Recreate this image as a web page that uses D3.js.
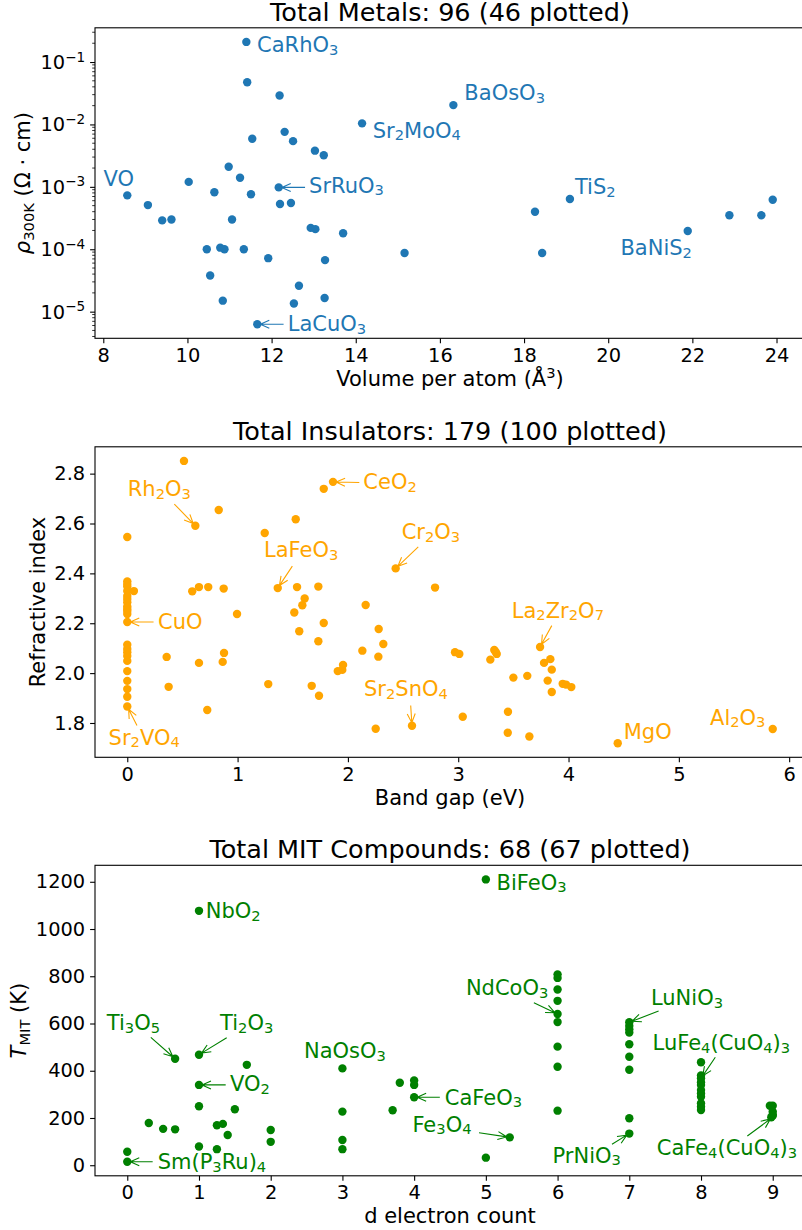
<!DOCTYPE html>
<html>
<head>
<meta charset="utf-8">
<script src="https://cdn.jsdelivr.net/npm/d3@7"></script>
<style>
body { margin: 0; background: #fff; }
svg { display: block; font-family: "DejaVu Sans", sans-serif; }
</style>
</head>
<body>
<svg></svg>
<script>

// DATA

// metals: volume per atom (A^3) vs resistivity at 300K (ohm cm)
var metal_volume = [11.40, 11.42, 12.19, 14.15, 12.31, 11.54, 12.51, 13.03, 13.24, 10.98,
	11.25, 10.03, 12.17, 10.64, 11.51, 8.57, 9.06, 12.20, 12.46, 9.40,
	9.62, 11.06, 12.93, 13.04, 13.70, 10.46, 10.78, 10.88, 11.34, 11.92,
	13.27, 15.16, 10.54, 12.65, 10.84, 12.53, 13.26, 11.66, 16.32, 19.09,
	18.26, 18.43, 21.89, 22.88, 23.64, 23.91]
var metal_rho = [0.21, 0.0475, 0.0291, 0.0104, 0.0076, 0.0059, 0.0054, 0.0038, 0.0032, 0.0021,
	0.0014, 0.0012, 0.00098, 0.00082, 0.00076, 0.00073, 0.00051, 0.00053, 0.00055, 0.00029,
	0.00030, 0.00030, 0.00022, 0.00021, 0.00018, 0.0001, 0.000106, 0.0001, 0.0001, 0.000072,
	0.000067, 0.000087, 0.000038, 0.000026, 0.000015, 0.0000135, 0.0000166, 0.0000063, 0.0204, 0.00064,
	0.00040, 0.000087, 0.000196, 0.00035, 0.00035, 0.00062]
var metal_labels = [
	["CaRhO3", 11.40, 0.21],
	["Sr2MoO4", 14.15, 0.0104],
	["SrRuO3", 12.17, 0.00098],
	["VO", 8.57, 0.00073],
	["BaOsO3", 16.32, 0.0204],
	["TiS2", 19.09, 0.00064],
	["BaNiS2", 21.89, 0.000196],
	["LaCuO3", 11.66, 0.0000063]
]

// insulators: band gap (eV) vs refractive index
var ins_gap = [0, 0, 0, 0, 0, 0, 0, 0, 0, 0, 0, 0,
	0, 0, 0, 0, 0, 0, 0, 0, 0, 0, 0, 0.06,
	0.514, 1.781, 1.865, 0.829, 0.617, 1.527, 1.246, 2.433, 2.790, 1.364,
	1.539, 1.732, 0.734, 0.650, 0.589, 0.874, 1.608, 1.587, 1.514, 0.995,
	2.161, 1.781, 1.559, 2.279, 1.732, 2.321, 2.131, 2.276, 0.357, 0.877,
	0.865, 0.650, 1.956, 1.949, 1.908, 0.375, 1.278, 1.672, 1.738, 0.725,
	2.252, 2.581,
	2.971, 3.010, 3.327, 3.349, 3.340, 3.291, 3.742, 3.778, 3.835, 3.848,
	3.500, 3.626, 3.811, 3.947, 3.977, 4.025, 3.848, 3.041, 3.451, 3.449,
	3.645, 4.446, 5.851]
var ins_n = [2.546, 2.368, 2.357, 2.347, 2.329, 2.309, 2.297, 2.284, 2.267, 2.257, 2.249, 2.237,
	2.205, 2.114, 2.097, 2.084, 2.069, 2.049, 2.008, 1.969, 1.936, 1.905, 1.866, 2.329,
	2.851, 2.739, 2.767, 2.654, 2.591, 2.617, 2.562, 2.420, 2.343, 2.341,
	2.345, 2.347, 2.345, 2.345, 2.328, 2.339, 2.299, 2.272, 2.243, 2.237,
	2.273, 2.201, 2.168, 2.177, 2.128, 2.117, 2.090, 2.066, 2.065, 2.081,
	2.045, 2.041, 2.033, 2.013, 2.008, 1.945, 1.956, 1.949, 1.909, 1.852,
	1.777, 1.789,
	2.084, 2.077, 2.093, 2.077, 2.085, 2.054, 2.105, 2.041, 2.056, 2.014,
	1.982, 1.989, 1.970, 1.957, 1.954, 1.944, 1.924, 1.825, 1.845, 1.761,
	1.746, 1.719, 1.776]
var ins_labels = [
	["Rh2O3", 0.617, 2.591],
	["CeO2", 1.865, 2.767],
	["Cr2O3", 2.433, 2.420],
	["LaFeO3", 1.364, 2.341],
	["CuO", 0, 2.205],
	["Sr2VO4", 0, 1.866],
	["Sr2SnO4", 2.581, 1.789],
	["La2Zr2O7", 3.742, 2.105],
	["MgO", 4.446, 1.719],
	["Al2O3", 5.851, 1.776]
]

// MIT compounds: d electron count vs transition temperature (K)
var mit_d = [0, 0, 0.3, 0.5, 0.667, 0.667, 1, 1, 1, 1, 1, 1.25, 1.25, 1.333, 1.4, 1.5, 1.667, 2, 2,
	3, 3, 3, 3, 3.7, 3.8, 4, 4, 4, 5, 5, 5.333,
	6, 6, 6, 6, 6, 6, 6, 6, 6,
	7, 7, 7, 7, 7, 7, 7, 7, 7,
	8, 8, 8, 8, 8, 8, 8, 8, 8, 8, 8,
	8.96, 9, 9, 9, 8.98, 9]
var mit_t = [57, 15, 179, 154, 152, 451, 1077, 468, 340, 250, 79, 169, 68, 175, 128, 237, 425, 149, 99,
	410, 227, 107, 68, 233, 349, 359, 340, 288, 1210, 32, 118,
	808, 793, 744, 696, 640, 606, 502, 417, 231,
	605, 590, 576, 562, 512, 459, 404, 199, 134,
	436, 380, 368, 351, 340, 318, 304, 290, 262, 248, 234,
	252, 252, 227, 209, 203, 215]
var mit_labels = [
	["NbO2", 1, 1077],
	["BiFeO3", 5, 1210],
	["Ti3O5", 0.667, 451],
	["Ti2O3", 1, 468],
	["VO2", 1, 340],
	["Sm(P3Ru)4", 0, 15],
	["NaOsO3", 3, 410],
	["CaFeO3", 4, 288],
	["Fe3O4", 5.333, 118],
	["NdCoO3", 6, 640],
	["LuNiO3", 7, 605],
	["LuFe4(CuO4)3", 8, 368],
	["PrNiO3", 7, 134],
	["CaFe4(CuO4)3", 9, 203]
]

// LAYOUT

// text offset from the point (left, baseline) and arrow start, in pixels
var note_pos = {
	CaRhO3: [10.7, 10], Sr2MoO4: [10.7, 14.3], SrRuO3: [30.3, 5.3], VO: [-23.7, -9.3],
	BaOsO3: [11, -4.7], TiS2: [5, -4.7], BaNiS2: [-67.3, 24.3], LaCuO3: [30.5, 7],
	Rh2O3: [-67.6, -29.7], CeO2: [30.3, 7.6], Cr2O3: [6, -29.3], LaFeO3: [-13.7, -30.7],
	CuO: [30.7, 7.3], Sr2VO4: [-18.7, 38.3], Sr2SnO4: [-48, -29.3], La2Zr2O7: [-28.3, -29.3],
	MgO: [6, -4.3], Al2O3: [-62.7, -4.3],
	NbO2: [6.7, 7.6], BiFeO3: [10.7, 10.3], Ti3O5: [-68.3, -28.7], Ti2O3: [21, -24.7],
	VO2: [31, 6], "Sm(P3Ru)4": [30.4, 7.6], NaOsO3: [-38.4, -10], CaFeO3: [30.7, 7.7],
	Fe3O4: [-97.3, -5.6], NdCoO3: [-91.7, -19], LuNiO3: [21.7, -17.3],
	"LuFe4(CuO4)3": [-48.4, -28.3], PrNiO3: [-76.7, 29], "CaFe4(CuO4)3": [-116, 37.7]
}
var arrow_from = {
	SrRuO3: [26.3, 0], LaCuO3: [26.3, 0],
	Rh2O3: [-21, -21.7], CeO2: [26.3, 0.6], Cr2O3: [22.6, -21.6], LaFeO3: [14.6, -22],
	CuO: [26.3, 0], Sr2VO4: [9.7, 19], Sr2SnO4: [-1.3, -20.3], La2Zr2O7: [11.7, -21.3],
	Ti3O5: [-24.3, -21.4], Ti2O3: [27.7, -17], VO2: [26.7, 0], "Sm(P3Ru)4": [25.4, 0],
	CaFeO3: [25.7, 0], Fe3O4: [-30.7, -4.6], NdCoO3: [-23.7, -11.3], LuNiO3: [29.3, -11.3],
	"LuFe4(CuO4)3": [14.3, -21], PrNiO3: [-17.3, 10.6], "CaFe4(CuO4)3": [-25.4, 18.7]
}

var width = 802
var height = 1230
var ax_left = 95, ax_right = 805
var ax_h = 310.5
var tick_size = 19.4, label_size = 21, title_size = 25.5, note_size = 21

var svg = d3.select("svg")
	.attr("width", width)
	.attr("height", height)

svg.append("rect")
	.attr("width", width)
	.attr("height", height)
	.attr("fill", "#fff")

// UTILS

function padded(ext){
	var r = ext[1] - ext[0]
	return [ext[0] - r * 0.05, ext[1] + r * 0.05]
}

function formula(sel, name){
	var shift = 0
	name.match(/\d+|\D+/g).forEach(function(p){
		var sub = /\d/.test(p)
		var target = sub ? 2.6 : 0
		sel.append("tspan")
			.attr("dy", target - shift)
			.attr("font-size", sub ? "0.7em" : null)
			.text(p)
		shift = target
	})
}

function arrow_path(x0, y0, x1, y1){
	var dx = x0 - x1, dy = y0 - y1
	var len = Math.sqrt(dx * dx + dy * dy)
	var ux = dx / len, uy = dy / len
	var tx = x1 + ux * 3, ty = y1 + uy * 3
	var hl = 9, hw = 4
	return "M" + x0 + "," + y0 + "L" + tx + "," + ty +
		"M" + (tx + ux * hl - uy * hw) + "," + (ty + uy * hl + ux * hw) +
		"L" + tx + "," + ty +
		"L" + (tx + ux * hl + uy * hw) + "," + (ty + uy * hl - ux * hw)
}

function style_axis(g){
	g.attr("font-size", tick_size).attr("font-family", null)
	g.select(".domain").remove()
	g.selectAll(".tick line").attr("stroke-width", 1.1)
}

function panel(o){

	var g = svg.append("g")
		.attr("transform", "translate(0," + o.top + ")")

	var x = o.x, y = o.y

	// axes
	g.append("g")
		.attr("transform", "translate(0," + ax_h + ")")
		.call(d3.axisBottom(x).tickValues(o.xticks).tickSize(4.9).tickPadding(4.9).tickSizeOuter(0).tickFormat(d3.format("d")))
		.call(style_axis)

	if(o.ylog){
		var ya = g.append("g")
			.attr("transform", "translate(" + ax_left + ",0)")
			.call(d3.axisLeft(y).tickValues(o.yticks).tickSize(4.9).tickFormat("").tickSizeOuter(0))
			.call(style_axis)
		ya.selectAll(".tick text").remove()
		o.yticks.forEach(function(v){
			var t = ya.append("text")
				.attr("x", -9.8)
				.attr("y", y(v))
				.attr("dy", "0.36em")
				.attr("text-anchor", "end")
				.attr("fill", "#000")
				.attr("font-size", tick_size)
			t.append("tspan").text("10")
			t.append("tspan")
				.attr("dy", -7.5)
				.attr("font-size", "0.7em")
				.text("\u2212" + Math.round(-Math.log10(v)))
		})
		var dom = y.domain()
		var minor = []
		for(var d = -7; d <= 0; d++){
			for(var k = 2; k < 10; k++){
				var v = k * Math.pow(10, d)
				if(v > dom[0] && v < dom[1]) minor.push(v)
			}
		}
		ya.selectAll(".minor").data(minor).enter()
			.append("line")
			.attr("class", "minor")
			.attr("x1", -2.8)
			.attr("x2", 0)
			.attr("y1", function(v){ return y(v) })
			.attr("y2", function(v){ return y(v) })
			.attr("stroke", "#000")
			.attr("stroke-width", 0.8)
	} else {
		g.append("g")
			.attr("transform", "translate(" + ax_left + ",0)")
			.call(d3.axisLeft(y).tickValues(o.yticks).tickSize(4.9).tickPadding(4.9).tickSizeOuter(0).tickFormat(d3.format(o.yformat)))
			.call(style_axis)
	}

	// frame
	g.append("rect")
		.attr("x", ax_left)
		.attr("y", 0)
		.attr("width", ax_right - ax_left)
		.attr("height", ax_h)
		.attr("fill", "none")
		.attr("stroke", "#000")
		.attr("stroke-width", 1.1)

	// points
	g.append("g").selectAll("circle").data(o.xs).enter()
		.append("circle")
		.attr("cx", function(d){ return x(d) })
		.attr("cy", function(d, i){ return y(o.ys[i]) })
		.attr("r", 4.2)
		.attr("fill", o.color)

	// annotations
	var notes = g.append("g")
	o.labels.forEach(function(l){
		var px = x(l[1]), py = y(l[2])
		var off = note_pos[l[0]]
		var t = notes.append("text")
			.attr("x", px + off[0])
			.attr("y", py + off[1])
			.attr("font-size", note_size)
			.attr("fill", o.color)
		formula(t, l[0])
		var a = arrow_from[l[0]]
		if(a){
			notes.append("path")
				.attr("d", arrow_path(px + a[0], py + a[1], px, py))
				.attr("fill", "none")
				.attr("stroke", o.color)
				.attr("stroke-width", 1.1)
		}
	})

	// titles
	g.append("text")
		.attr("x", (ax_left + ax_right) / 2)
		.attr("y", -7)
		.attr("text-anchor", "middle")
		.attr("font-size", title_size)
		.text(o.title)

	var xl = g.append("text")
		.attr("x", (ax_left + ax_right) / 2)
		.attr("y", ax_h + 47.3)
		.attr("text-anchor", "middle")
		.attr("font-size", label_size)
	o.xlabel(xl)

	var yl = g.append("text")
		.attr("transform", "translate(" + o.ylabel_x + "," + ax_h / 2 + ") rotate(-90)")
		.attr("text-anchor", "middle")
		.attr("font-size", label_size)
	o.ylabel(yl)
}

// PANELS

var tops = [27.8, 446.8, 865.3]

var log_ext = padded(d3.extent(metal_rho).map(Math.log10))

panel({
	top: tops[0],
	x: d3.scaleLinear().domain(padded(d3.extent(metal_volume))).range([ax_left, ax_right]),
	y: d3.scaleLog().domain([Math.pow(10, log_ext[0]), Math.pow(10, log_ext[1])]).range([ax_h, 0]),
	ylog: true,
	xs: metal_volume,
	ys: metal_rho,
	xticks: d3.range(8, 25, 2),
	yticks: [1e-5, 1e-4, 1e-3, 1e-2, 1e-1],
	color: "#1f77b4",
	labels: metal_labels,
	title: "Total Metals: 96 (46 plotted)",
	ylabel_x: 30,
	xlabel: function(t){
		t.append("tspan").text("Volume per atom (\u00c5")
		t.append("tspan").attr("dy", -7.5).attr("font-size", "0.7em").text("3")
		t.append("tspan").attr("dy", 7.5).text(")")
	},
	ylabel: function(t){
		t.append("tspan").attr("font-style", "italic").text("\u03c1")
		t.append("tspan").attr("dy", 3.5).attr("font-size", "0.7em").text("300K")
		t.append("tspan").attr("dy", -3.5).text(" (\u03a9 \u00b7 cm)")
	}
})

panel({
	top: tops[1],
	x: d3.scaleLinear().domain(padded(d3.extent(ins_gap))).range([ax_left, ax_right]),
	y: d3.scaleLinear().domain(padded(d3.extent(ins_n))).range([ax_h, 0]),
	xs: ins_gap,
	ys: ins_n,
	xticks: d3.range(0, 7),
	yticks: [1.8, 2.0, 2.2, 2.4, 2.6, 2.8],
	yformat: ".1f",
	color: "orange",
	labels: ins_labels,
	title: "Total Insulators: 179 (100 plotted)",
	ylabel_x: 44.5,
	xlabel: function(t){ t.text("Band gap (eV)") },
	ylabel: function(t){ t.text("Refractive index") }
})

panel({
	top: tops[2],
	x: d3.scaleLinear().domain(padded(d3.extent(mit_d))).range([ax_left, ax_right]),
	y: d3.scaleLinear().domain(padded(d3.extent(mit_t))).range([ax_h, 0]),
	xs: mit_d,
	ys: mit_t,
	xticks: d3.range(0, 10),
	yticks: d3.range(0, 1201, 200),
	yformat: "d",
	color: "green",
	labels: mit_labels,
	title: "Total MIT Compounds: 68 (67 plotted)",
	ylabel_x: 26,
	xlabel: function(t){ t.text("d electron count") },
	ylabel: function(t){
		t.append("tspan").attr("font-style", "italic").text("T")
		t.append("tspan").attr("dy", 3.5).attr("font-size", "0.7em").text("MIT")
		t.append("tspan").attr("dy", -3.5).text(" (K)")
	}
})

</script>
</body>
</html>
